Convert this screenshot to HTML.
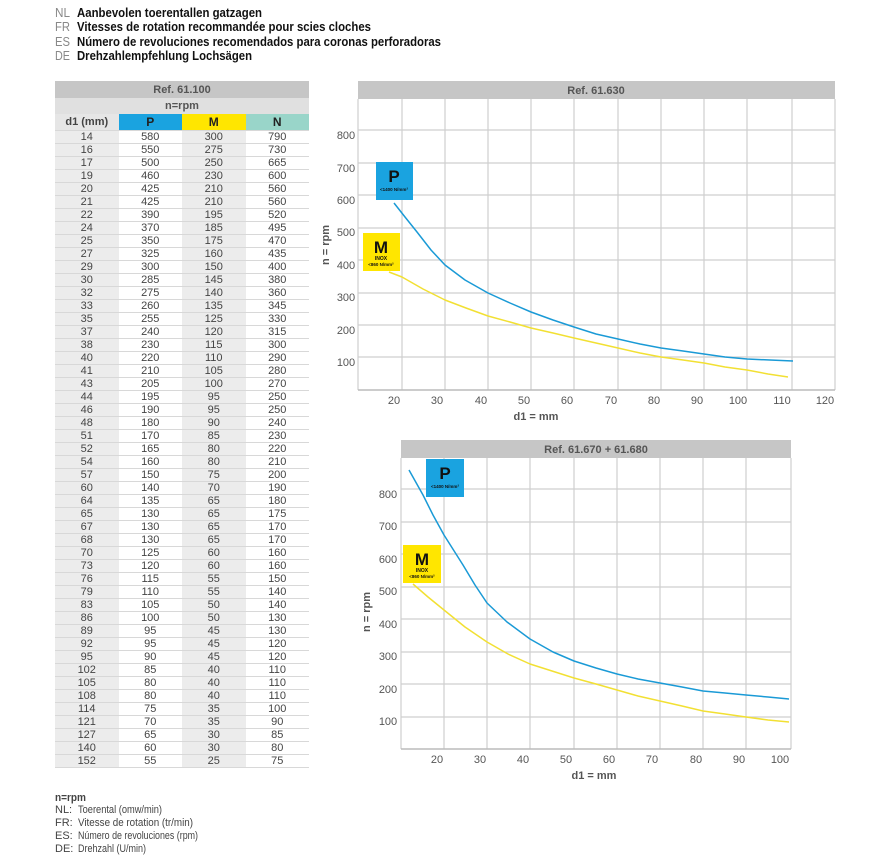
<!DOCTYPE html>
<html><head><meta charset="utf-8"><style>
body{margin:0;background:#fff;width:874px;height:864px;overflow:hidden;position:relative;font-family:"Liberation Sans Narrow","Liberation Sans",sans-serif;}
.t{position:absolute;left:0;top:0}
table{position:absolute;left:55px;top:81px;border-collapse:collapse;width:254px;table-layout:fixed;font-size:11px;color:#444;}
td{height:12px;padding:0;text-align:center;border-bottom:1px solid #d8d8d8;line-height:12px;}
tr.d td:nth-child(1),tr.d td:nth-child(3){background:#ececec}
</style></head><body>
<svg class="t" width="874" height="864" font-family="Liberation Sans Narrow, Liberation Sans, sans-serif">
<g font-size="13">
<text x="55" y="17" fill="#888" textLength="15" lengthAdjust="spacingAndGlyphs">NL</text><text x="77" y="17" font-weight="bold" fill="#111" textLength="185" lengthAdjust="spacingAndGlyphs">Aanbevolen toerentallen gatzagen</text>
<text x="55" y="31" fill="#888" textLength="15" lengthAdjust="spacingAndGlyphs">FR</text><text x="77" y="31" font-weight="bold" fill="#111" textLength="294" lengthAdjust="spacingAndGlyphs">Vitesses de rotation recommandée pour scies cloches</text>
<text x="55" y="46" fill="#888" textLength="15" lengthAdjust="spacingAndGlyphs">ES</text><text x="77" y="46" font-weight="bold" fill="#111" textLength="364" lengthAdjust="spacingAndGlyphs">Número de revoluciones recomendados para coronas perforadoras</text>
<text x="55" y="60" fill="#888" textLength="15" lengthAdjust="spacingAndGlyphs">DE</text><text x="77" y="60" font-weight="bold" fill="#111" textLength="175" lengthAdjust="spacingAndGlyphs">Drehzahlempfehlung Lochsägen</text>
</g>
<g font-size="11" fill="#444">
<text x="55" y="801" font-weight="bold" textLength="31" lengthAdjust="spacingAndGlyphs">n=rpm</text>
<text x="55" y="813">NL:</text><text x="78" y="813" textLength="84" lengthAdjust="spacingAndGlyphs">Toerental (omw/min)</text>
<text x="55" y="826">FR:</text><text x="78" y="826" textLength="115" lengthAdjust="spacingAndGlyphs">Vitesse de rotation (tr/min)</text>
<text x="55" y="839">ES:</text><text x="78" y="839" textLength="120" lengthAdjust="spacingAndGlyphs">Número de revoluciones (rpm)</text>
<text x="55" y="852">DE:</text><text x="78" y="852" textLength="68" lengthAdjust="spacingAndGlyphs">Drehzahl (U/min)</text>
</g>
<!-- chart 1 -->
<rect x="358" y="81" width="477" height="18" fill="#c6c6c6"/>
<text x="596" y="94" font-size="11" font-weight="bold" fill="#555" text-anchor="middle">Ref. 61.630</text>
<g stroke="#cfcfcf" stroke-width="1.2" fill="none">
<path d="M402 99V390M445 99V390M488 99V390M531 99V390M574 99V390M618 99V390M661 99V390M704 99V390M747 99V390M792 99V390M835 99V390M358 99V390"/>
<path d="M358 130H835M358 163H835M358 195H835M358 228H835M358 260H835M358 293H835M358 325H835M358 357H835"/>
</g>
<path d="M358 390H835" stroke="#bbb" stroke-width="1.5"/>
<g font-size="11" fill="#555" text-anchor="middle">
<text x="346" y="139">800</text><text x="346" y="172">700</text><text x="346" y="204">600</text><text x="346" y="236">500</text><text x="346" y="269">400</text><text x="346" y="301">300</text><text x="346" y="334">200</text><text x="346" y="366">100</text>
<text x="394" y="404">20</text><text x="437" y="404">30</text><text x="481" y="404">40</text><text x="524" y="404">50</text><text x="567" y="404">60</text><text x="611" y="404">70</text><text x="654" y="404">80</text><text x="697" y="404">90</text><text x="738" y="404">100</text><text x="782" y="404">110</text><text x="825" y="404">120</text>
<text x="536" y="420" font-weight="bold">d1 = mm</text>
<text transform="translate(329,245) rotate(-90)" font-weight="bold">n = rpm</text>
</g>
<polyline fill="none" stroke="#1a9ad6" stroke-width="1.5" stroke-linejoin="round" points="394,203 405,217 417,232 431,250 445,265 465,280 488,293 510,303 531,312 553,320 574,327 596,334 618,339 640,344 661,348 683,351 704,354 725,357 747,359 770,360 793,361"/>
<polyline fill="none" stroke="#f2e033" stroke-width="1.5" stroke-linejoin="round" points="389,272 402,277 423,289 445,300 466,308 488,316 510,322 531,328 553,333 574,338 596,343 618,348 640,353 661,357 683,360 704,363 725,367 747,370 768,374 788,377"/>
<rect x="376" y="162" width="37" height="38" fill="#1aa3e0"/>
<text x="394" y="182" font-size="17" font-weight="bold" text-anchor="middle" fill="#111">P</text>
<text x="394" y="191" font-size="4.5" font-weight="bold" text-anchor="middle" fill="#111">&lt;1400 N/mm²</text>
<rect x="363" y="233" width="37" height="38" fill="#ffe600"/>
<text x="381" y="253" font-size="17" font-weight="bold" text-anchor="middle" fill="#111">M</text>
<text x="381" y="260" font-size="5" font-weight="bold" text-anchor="middle" fill="#111">INOX</text>
<text x="381" y="266" font-size="4.5" font-weight="bold" text-anchor="middle" fill="#111">&lt;860 N/mm²</text>
<!-- chart 2 -->
<rect x="401" y="440" width="390" height="18" fill="#c6c6c6"/>
<text x="596" y="453" font-size="11" font-weight="bold" fill="#555" text-anchor="middle">Ref. 61.670 + 61.680</text>
<g stroke="#cfcfcf" stroke-width="1.2" fill="none">
<path d="M401 458V749M444 458V749M487 458V749M530 458V749M574 458V749M617 458V749M660 458V749M703 458V749M746 458V749M791 458V749"/>
<path d="M401 489H791M401 522H791M401 554H791M401 587H791M401 619H791M401 652H791M401 684H791M401 717H791"/>
</g>
<path d="M401 749H791" stroke="#bbb" stroke-width="1.5"/>
<g font-size="11" fill="#555" text-anchor="middle">
<text x="388" y="498">800</text><text x="388" y="530">700</text><text x="388" y="563">600</text><text x="388" y="595">500</text><text x="388" y="628">400</text><text x="388" y="660">300</text><text x="388" y="693">200</text><text x="388" y="725">100</text>
<text x="437" y="763">20</text><text x="480" y="763">30</text><text x="523" y="763">40</text><text x="566" y="763">50</text><text x="609" y="763">60</text><text x="652" y="763">70</text><text x="696" y="763">80</text><text x="739" y="763">90</text><text x="780" y="763">100</text>
<text x="594" y="779" font-weight="bold">d1 = mm</text>
<text transform="translate(370,612) rotate(-90)" font-weight="bold">n = rpm</text>
</g>
<polyline fill="none" stroke="#1a9ad6" stroke-width="1.5" stroke-linejoin="round" points="409,470 423,495 433,515 444,535 463,565 475,585 487,603 507,622 530,639 553,652 574,661 596,668 617,674 638,679 660,683 682,687 703,691 725,693 746,695 768,697 789,699"/>
<polyline fill="none" stroke="#f2e033" stroke-width="1.5" stroke-linejoin="round" points="413,584 428,597 444,610 465,627 487,642 508,654 530,664 552,671 574,678 596,684 617,690 638,696 660,701 682,706 703,711 725,714 746,717 768,720 789,722"/>
<rect x="426" y="459" width="38" height="38" fill="#1aa3e0"/>
<text x="445" y="479" font-size="17" font-weight="bold" text-anchor="middle" fill="#111">P</text>
<text x="445" y="488" font-size="4.5" font-weight="bold" text-anchor="middle" fill="#111">&lt;1400 N/mm²</text>
<rect x="403" y="545" width="38" height="38" fill="#ffe600"/>
<text x="422" y="565" font-size="17" font-weight="bold" text-anchor="middle" fill="#111">M</text>
<text x="422" y="572" font-size="5" font-weight="bold" text-anchor="middle" fill="#111">INOX</text>
<text x="422" y="578" font-size="4.5" font-weight="bold" text-anchor="middle" fill="#111">&lt;860 N/mm²</text>
</svg>
<table>
<tr><td colspan="4" style="background:#c6c6c6;height:17px;font-weight:bold;color:#555;border:0">Ref. 61.100</td></tr>
<tr><td colspan="4" style="background:#e0e0e0;height:16px;font-weight:bold;color:#555;border:0">n=rpm</td></tr>
<tr style="font-weight:bold;font-size:12px;color:#222"><td style="background:#e6e6e6;height:16px;color:#444;font-size:11px">d1 (mm)</td><td style="background:#1aa3e0">P</td><td style="background:#ffe600">M</td><td style="background:#99d5c9">N</td></tr>
<tr class="d"><td>14</td><td>580</td><td>300</td><td>790</td></tr>
<tr class="d"><td>16</td><td>550</td><td>275</td><td>730</td></tr>
<tr class="d"><td>17</td><td>500</td><td>250</td><td>665</td></tr>
<tr class="d"><td>19</td><td>460</td><td>230</td><td>600</td></tr>
<tr class="d"><td>20</td><td>425</td><td>210</td><td>560</td></tr>
<tr class="d"><td>21</td><td>425</td><td>210</td><td>560</td></tr>
<tr class="d"><td>22</td><td>390</td><td>195</td><td>520</td></tr>
<tr class="d"><td>24</td><td>370</td><td>185</td><td>495</td></tr>
<tr class="d"><td>25</td><td>350</td><td>175</td><td>470</td></tr>
<tr class="d"><td>27</td><td>325</td><td>160</td><td>435</td></tr>
<tr class="d"><td>29</td><td>300</td><td>150</td><td>400</td></tr>
<tr class="d"><td>30</td><td>285</td><td>145</td><td>380</td></tr>
<tr class="d"><td>32</td><td>275</td><td>140</td><td>360</td></tr>
<tr class="d"><td>33</td><td>260</td><td>135</td><td>345</td></tr>
<tr class="d"><td>35</td><td>255</td><td>125</td><td>330</td></tr>
<tr class="d"><td>37</td><td>240</td><td>120</td><td>315</td></tr>
<tr class="d"><td>38</td><td>230</td><td>115</td><td>300</td></tr>
<tr class="d"><td>40</td><td>220</td><td>110</td><td>290</td></tr>
<tr class="d"><td>41</td><td>210</td><td>105</td><td>280</td></tr>
<tr class="d"><td>43</td><td>205</td><td>100</td><td>270</td></tr>
<tr class="d"><td>44</td><td>195</td><td>95</td><td>250</td></tr>
<tr class="d"><td>46</td><td>190</td><td>95</td><td>250</td></tr>
<tr class="d"><td>48</td><td>180</td><td>90</td><td>240</td></tr>
<tr class="d"><td>51</td><td>170</td><td>85</td><td>230</td></tr>
<tr class="d"><td>52</td><td>165</td><td>80</td><td>220</td></tr>
<tr class="d"><td>54</td><td>160</td><td>80</td><td>210</td></tr>
<tr class="d"><td>57</td><td>150</td><td>75</td><td>200</td></tr>
<tr class="d"><td>60</td><td>140</td><td>70</td><td>190</td></tr>
<tr class="d"><td>64</td><td>135</td><td>65</td><td>180</td></tr>
<tr class="d"><td>65</td><td>130</td><td>65</td><td>175</td></tr>
<tr class="d"><td>67</td><td>130</td><td>65</td><td>170</td></tr>
<tr class="d"><td>68</td><td>130</td><td>65</td><td>170</td></tr>
<tr class="d"><td>70</td><td>125</td><td>60</td><td>160</td></tr>
<tr class="d"><td>73</td><td>120</td><td>60</td><td>160</td></tr>
<tr class="d"><td>76</td><td>115</td><td>55</td><td>150</td></tr>
<tr class="d"><td>79</td><td>110</td><td>55</td><td>140</td></tr>
<tr class="d"><td>83</td><td>105</td><td>50</td><td>140</td></tr>
<tr class="d"><td>86</td><td>100</td><td>50</td><td>130</td></tr>
<tr class="d"><td>89</td><td>95</td><td>45</td><td>130</td></tr>
<tr class="d"><td>92</td><td>95</td><td>45</td><td>120</td></tr>
<tr class="d"><td>95</td><td>90</td><td>45</td><td>120</td></tr>
<tr class="d"><td>102</td><td>85</td><td>40</td><td>110</td></tr>
<tr class="d"><td>105</td><td>80</td><td>40</td><td>110</td></tr>
<tr class="d"><td>108</td><td>80</td><td>40</td><td>110</td></tr>
<tr class="d"><td>114</td><td>75</td><td>35</td><td>100</td></tr>
<tr class="d"><td>121</td><td>70</td><td>35</td><td>90</td></tr>
<tr class="d"><td>127</td><td>65</td><td>30</td><td>85</td></tr>
<tr class="d"><td>140</td><td>60</td><td>30</td><td>80</td></tr>
<tr class="d"><td>152</td><td>55</td><td>25</td><td>75</td></tr>
</table>
</body></html>
